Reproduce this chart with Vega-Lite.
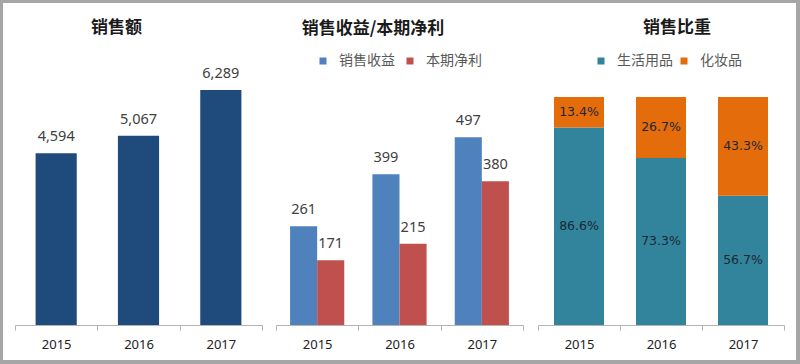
{
  "$schema": "https://vega.github.io/schema/vega-lite/v6.json",
  "background": "#a6a6a6",
  "padding": {"left": 3, "top": 3, "right": 4, "bottom": 4},
  "spacing": 0,
  "bounds": "flush",
  "resolve": {"scale": {"color": "independent", "x": "independent", "y": "independent"}, "legend": {"color": "independent"}},
  "config": {
    "font": "Noto Sans CJK SC",
    "view": {"fill": "white", "stroke": null},
    "axisX": {
      "title": null,
      "domainColor": "#b3b3b3",
      "tickColor": "#b3b3b3",
      "tickSize": 5,
      "tickBand": "extent",
      "labelFont": "Noto Sans",
      "labelFontSize": 13,
      "labelColor": "#222222",
      "labelPadding": 8,
      "labelAngle": 0,
      "offset": -35,
      "grid": false
    },
    "title": {"fontSize": 17, "fontWeight": "bold", "color": "#1a1a1a", "frame": "group", "anchor": "middle", "offset": 0, "baseline": "middle"},
    "legend": {
      "orient": "none",
      "direction": "horizontal",
      "title": null,
      "symbolType": "square",
      "symbolSize": 49,
      "symbolStrokeWidth": 0,
      "labelFontSize": 14,
      "labelColor": "#595959",
      "labelOffset": 9,
      "columnPadding": 8
    }
  },
  "hconcat": [
    {
      "width": 267,
      "height": 357,
      "title": {"text": "销售额", "dy": 38, "dx": -20},
      "data": {"values": [
        {"year": "2015", "sales": 4594},
        {"year": "2016", "sales": 5067},
        {"year": "2017", "sales": 6289}
      ]},
      "encoding": {
        "x": {"field": "year", "type": "nominal", "scale": {"range": [12, 259], "paddingInner": 0, "paddingOuter": 0}},
        "y": {"field": "sales", "type": "quantitative", "scale": {"domain": [0, 6289], "range": [322, 87], "nice": false}, "axis": null}
      },
      "layer": [
        {"mark": {"type": "bar", "width": {"band": 0.5}, "color": "#1F4A7C"}},
        {"mark": {"type": "text", "dy": -16, "font": "Noto Sans", "fontSize": 14.5, "color": "#404040"}, "encoding": {"text": {"field": "sales", "type": "quantitative", "format": ","}}}
      ]
    },
    {
      "width": 262,
      "height": 357,
      "title": {"text": "销售收益/本期净利", "dy": 39, "dx": -28},
      "data": {"values": [
        {"year": "2015", "series": "销售收益", "v": 261},
        {"year": "2015", "series": "本期净利", "v": 171},
        {"year": "2016", "series": "销售收益", "v": 399},
        {"year": "2016", "series": "本期净利", "v": 215},
        {"year": "2017", "series": "销售收益", "v": 497},
        {"year": "2017", "series": "本期净利", "v": 380}
      ]},
      "encoding": {
        "x": {"field": "year", "type": "nominal", "scale": {"range": [6, 253], "paddingInner": 0, "paddingOuter": 0}},
        "xOffset": {"field": "series", "type": "nominal", "sort": ["销售收益", "本期净利"], "scale": {"paddingInner": 0, "paddingOuter": 0.52}},
        "y": {"field": "v", "type": "quantitative", "scale": {"domain": [0, 500], "range": [322, 133], "nice": false}, "axis": null}
      },
      "layer": [
        {
          "mark": {"type": "bar"},
          "encoding": {
            "color": {"field": "series", "type": "nominal", "sort": ["销售收益", "本期净利"],
              "scale": {"domain": ["销售收益", "本期净利"], "range": ["#4F81BD", "#C0504D"]},
              "legend": {"legendX": 46, "legendY": 51}}
          }
        },
        {"mark": {"type": "text", "dy": -16, "font": "Noto Sans", "fontSize": 14.5, "color": "#404040"}, "encoding": {"text": {"field": "v", "type": "quantitative"}}}
      ]
    },
    {
      "width": 264,
      "height": 357,
      "title": {"text": "销售比重", "dy": 38, "dx": 13},
      "data": {"values": [
        {"year": "2015", "cat": "生活用品", "p": 0.866},
        {"year": "2015", "cat": "化妆品", "p": 0.134},
        {"year": "2016", "cat": "生活用品", "p": 0.733},
        {"year": "2016", "cat": "化妆品", "p": 0.267},
        {"year": "2017", "cat": "生活用品", "p": 0.567},
        {"year": "2017", "cat": "化妆品", "p": 0.433}
      ]},
      "encoding": {
        "x": {"field": "year", "type": "nominal", "scale": {"range": [6, 252], "paddingInner": 0, "paddingOuter": 0}},
        "y": {"field": "p", "type": "quantitative", "stack": "zero", "scale": {"domain": [0, 1], "range": [322, 94], "nice": false}, "axis": null},
        "order": {"field": "cat", "sort": "descending"}
      },
      "layer": [
        {
          "mark": {"type": "bar", "width": {"band": 0.61}},
          "encoding": {
            "color": {"field": "cat", "type": "nominal", "sort": ["生活用品", "化妆品"],
              "scale": {"domain": ["生活用品", "化妆品"], "range": ["#31849B", "#E46C0A"]},
              "legend": {"legendX": 62, "legendY": 51, "columnPadding": 4}}
          }
        },
        {
          "mark": {"type": "text", "font": "DejaVu Sans", "fontSize": 12.5, "color": "#1c2833"},
          "encoding": {
            "y": {"field": "p", "type": "quantitative", "stack": "zero", "bandPosition": 0.5},
            "text": {"field": "p", "type": "quantitative", "format": ".1%"}
          }
        }
      ]
    }
  ]
}
